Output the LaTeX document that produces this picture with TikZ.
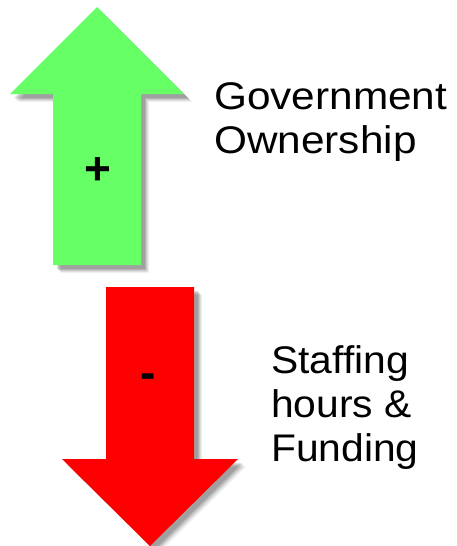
\documentclass[tikz,border=0pt]{standalone}
\usepackage{fontspec}
\setmainfont{Liberation Sans}
\begin{document}
\begin{tikzpicture}[x=1pt,y=-1pt,
  lbl/.style={anchor=base west,inner sep=0pt,align=left,font=\fontsize{38.5}{44}\selectfont},
  sign/.style={inner sep=0pt,font=\fontsize{46}{46}\selectfont\bfseries}]
\useasboundingbox (0,0) rectangle (456,546);
\definecolor{upgreen}{RGB}{102,255,102}
\definecolor{downred}{RGB}{255,0,0}
% shadows
\foreach \d/\o in {8/0.05,7/0.07,6/0.09,5/0.11,4/0.12}{
  \fill[black,opacity=\o,shift={(\d,\d)}] (97,7) -- (184,94) -- (141,94) -- (141,265) -- (53,265) -- (53,94) -- (10,94) -- cycle;
  \fill[black,opacity=\o,shift={(\d,\d)}] (106,287) -- (194,287) -- (194,459) -- (238,459) -- (150,546) -- (62,459) -- (106,459) -- cycle;
}
\fill[upgreen] (97,7) -- (184,94) -- (141,94) -- (141,265) -- (53,265) -- (53,94) -- (10,94) -- cycle;
\fill[downred] (106,287) -- (194,287) -- (194,459) -- (238,459) -- (150,546) -- (62,459) -- (106,459) -- cycle;
\node[sign] (plus) at (98,171) {+};
\node[sign] (minus) at (148,381) {-};
\node[lbl,xscale=1.1] (gov) at (214,153) {Government\\Ownership};
\node[lbl,xscale=1.06] (staff) at (271,461) {Staffing\\hours \&\\Funding};
\end{tikzpicture}
\end{document}
